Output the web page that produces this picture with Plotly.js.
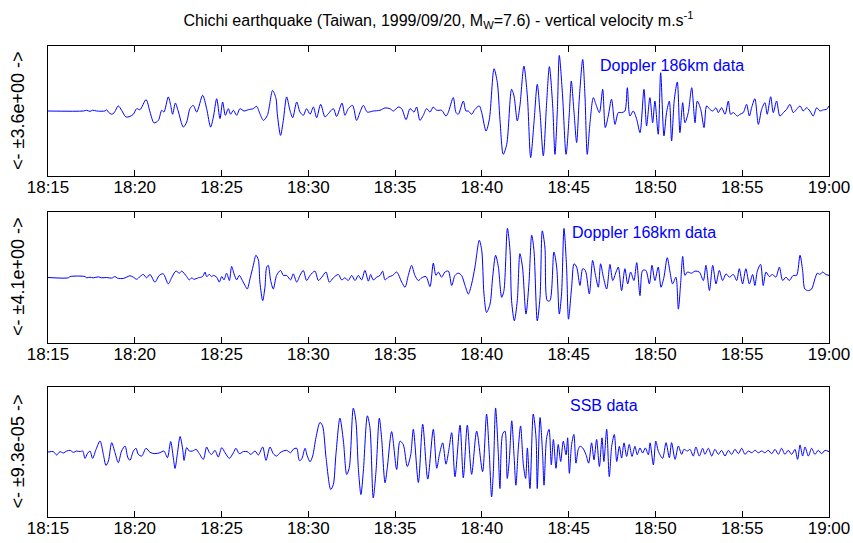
<!DOCTYPE html>
<html>
<head>
<meta charset="utf-8">
<script src="https://cdn.plot.ly/plotly-3.0.1.min.js"></script>
<style>html,body{margin:0;padding:0;background:#fff;}#chart{width:853px;height:543px;}</style>
</head>
<body>
<div id="chart"></div>
<script>
// Time axis: minutes after 18:15 UT
const tickMinutes = [0, 5, 10, 15, 20, 25, 30, 35, 40, 45];
const tickLabels = ['18:15', '18:20', '18:25', '18:30', '18:35', '18:40', '18:45', '18:50', '18:55', '19:00'];

// Panel 1 : Doppler 186 km (m/s)
const dop186Time = [
0, 2.04, 2.23, 2.42, 2.57, 2.80, 3.28, 3.38, 3.48, 3.67,
3.80, 4.05, 4.24, 4.49, 4.72, 4.92, 5.11, 5.30, 5.65, 5.88,
6.11, 6.36, 6.55, 6.68, 6.93, 7.07, 7.18, 7.34, 7.49, 7.80,
7.99, 8.18, 8.37, 8.57, 8.91, 9.14, 9.37, 9.53, 9.72, 9.91,
10.06, 10.22, 10.39, 10.52, 10.68, 10.87, 11.06, 11.29, 11.54, 11.83,
12.02, 12.21, 12.41, 12.64, 12.94, 13.14, 13.21, 13.40, 13.56, 13.75,
13.94, 14.10, 14.33, 14.52, 14.71, 14.90, 15.10, 15.29, 15.48, 15.71,
15.96, 16.15, 16.44, 16.63, 16.94, 17.11, 17.30, 17.55, 17.78, 17.98,
18.17, 18.40, 18.74, 19.13, 19.42, 19.70, 19.90, 20.18, 20.38, 20.63,
20.86, 21.09, 21.24, 21.43, 21.62, 21.82, 22.01, 22.20, 22.39, 22.68,
22.93, 23.06, 23.35, 23.51, 23.64, 23.93, 24.08, 24.22, 24.41, 24.60,
24.85, 24.99, 25.24, 25.43, 25.70, 25.89, 26.04, 26.23, 26.43, 26.71,
26.85, 27.04, 27.19, 27.42, 27.62, 27.81, 28.00, 28.19, 28.35, 28.54,
28.73, 28.89, 29.08, 29.21, 29.35, 29.46, 29.65, 29.85, 30.04, 30.15,
30.31, 30.46, 30.61, 30.81, 30.94, 31.07, 31.23, 31.42, 31.57, 31.77,
31.96, 32.11, 32.28, 32.47, 32.67, 32.86, 33.05, 33.24, 33.38, 33.53,
33.72, 33.92, 34.11, 34.34, 34.49, 34.68, 34.84, 34.97, 35.16, 35.30,
35.49, 35.64, 35.80, 35.93, 36.09, 36.26, 36.41, 36.57, 36.70, 36.89,
37.09, 37.28, 37.41, 37.61, 37.80, 37.95, 38.14, 38.30, 38.49, 38.62,
38.81, 39.01, 39.20, 39.33, 39.49, 39.72, 39.87, 40.06, 40.25, 40.41,
40.54, 40.73, 40.93, 41.12, 41.31, 41.44, 41.64, 41.79, 41.98, 42.17,
42.37, 42.56, 42.75, 42.94, 43.13, 43.33, 43.52, 43.71, 43.90, 44.09,
44.29, 44.48, 44.67, 44.86, 45.00
];
const dop186Vel = [
0, 0, 0.04, -0.02, 0.04, 0, 0, 0.07, -0.06, -0.18,
-0.11, 0.28, 0.04, -0.33, -0.30, -0.18, 0.13, 0.07, 0.63, -0.06,
-0.66, -0.52, 0.04, -0.06, 0.78, 0.31, -0.18, 0.44, 0.04, -0.89,
-0.61, 0.13, 0.31, -0.06, 0.87, 0.13, -0.89, -0.33, 0.68, -0.42,
0.50, -0.24, 0.13, -0.18, 0.04, -0.24, 0.13, 0, 0.07, 0.13,
0.26, -0.15, -0.52, -0.24, 1.14, 0.68, -0.15, -1.35, -0.52, 0.78,
0.04, -0.37, 0.50, -0.06, -0.24, 0.13, -0.18, 0.22, -0.37, 0.37,
-0.33, -0.15, 0.13, -0.30, 0.44, -0.24, 0.13, 0.31, -0.52, -0.06,
0.31, -0.06, 0, 0.04, 0.17, 0.13, 0, 0.22, 0.13, -0.48,
0.13, -0.06, 0.22, -0.52, -0.24, 0.13, -0.06, 0.22, 0.04, 0.04,
-0.28, -0.09, 0.74, -0.09, -0.18, 0.55, 0, 0, -0.18, 0.09,
0.28, -0.09, -1.11, -0.46, 2.34, 1.57, -0.46, -2.40, -1.85, 1.20,
0.83, -0.55, 0.28, 2.49, 0.83, -2.58, -0.65, 1.48, -0.09, -2.49,
0.46, 2.46, 0.28, -2.40, 0.09, 3.08, 0.83, -2.40, -0.09, 1.66,
-0.09, -1.75, 0.65, 2.86, 0.83, -2.40, -0.65, 0.74, 0.37, -0.09,
1.20, -0.92, -0.28, 0.65, -0.74, -0.09, -0.09, 0, 1.29, -0.28,
0, -0.46, -1.20, 1.20, -0.83, 0.74, -0.65, 0.55, -1.29, 2.12,
-1.38, -0.09, 0.55, -1.66, 0.65, 1.61, -1.20, 0.46, -0.65, -0.09,
1.29, -0.65, 0.55, 0.09, -0.92, 0.28, 0.09, 0, 0.18, -0.09,
0.18, -0.18, 0.55, -0.18, -0.09, -0.28, -0.18, -0.09, 0.37, -0.28,
0.18, 0.68, -0.74, 0.09, 0.46, -0.18, 0.79, -0.09, 0.55, -0.28,
-0.09, 0.09, 0.37, -0.09, 0.09, 0.28, 0, 0.18, 0, -0.28,
0.18, 0, 0.06, 0.09, 0.28
];

// Panel 2 : Doppler 168 km (m/s)
const dop168Time = [
0, 1.17, 1.27, 2.13, 2.23, 2.42, 2.61, 2.90, 3.09, 3.38,
3.67, 3.86, 3.99, 4.34, 4.53, 4.72, 4.92, 5.11, 5.30, 5.49,
5.68, 5.88, 6.16, 6.41, 6.64, 6.93, 7.12, 7.37, 7.57, 7.70,
7.99, 8.14, 8.28, 8.41, 8.66, 8.91, 9.05, 9.14, 9.30, 9.43,
9.53, 9.72, 9.87, 10.01, 10.14, 10.29, 10.45, 10.58, 10.72, 10.87,
11.02, 11.20, 11.35, 11.48, 11.64, 11.83, 11.98, 12.12, 12.21, 12.37,
12.50, 12.60, 12.69, 12.83, 12.98, 13.17, 13.40, 13.56, 13.75, 13.98,
14.13, 14.33, 14.52, 14.71, 14.90, 15.10, 15.38, 15.58, 15.77, 16.02,
16.21, 16.44, 16.73, 16.92, 17.11, 17.30, 17.50, 17.69, 17.88, 18.07,
18.26, 18.46, 18.59, 18.74, 18.94, 19.13, 19.28, 19.42, 19.61, 19.86,
20.09, 20.38, 20.57, 20.76, 20.95, 21.14, 21.34, 21.53, 21.78, 22.01,
22.20, 22.35, 22.49, 22.68, 22.87, 23.07, 23.26, 23.45, 23.64, 23.83,
24.03, 24.22, 24.41, 24.60, 24.85, 24.99, 25.12, 25.27, 25.47, 25.62,
25.79, 25.95, 26.14, 26.27, 26.47, 26.62, 26.71, 26.87, 27.04, 27.19,
27.34, 27.54, 27.71, 27.87, 28.00, 28.19, 28.35, 28.48, 28.63, 28.77,
28.92, 29.15, 29.31, 29.46, 29.59, 29.73, 29.88, 29.99, 30.17, 30.31,
30.46, 30.65, 30.81, 30.96, 31.19, 31.38, 31.53, 31.71, 31.84, 32.00,
32.19, 32.38, 32.54, 32.73, 32.86, 33.05, 33.24, 33.40, 33.57, 33.76,
33.92, 34.11, 34.26, 34.45, 34.65, 34.80, 34.97, 35.16, 35.32, 35.49,
35.68, 35.84, 35.99, 36.18, 36.32, 36.45, 36.57, 36.70, 36.84, 37.08,
37.28, 37.53, 37.76, 37.91, 38.11, 38.30, 38.49, 38.68, 38.87, 39.07,
39.26, 39.49, 39.68, 39.83, 40.02, 40.21, 40.41, 40.60, 40.73, 40.87,
41.06, 41.21, 41.37, 41.56, 41.75, 41.94, 42.14, 42.33, 42.52, 42.71,
42.94, 43.13, 43.33, 43.48, 43.61, 43.81, 44.00, 44.19, 44.33, 44.48,
44.63, 44.82, 45.00
];
const dop168Vel = [
0, -0.02, 0.06, 0.06, -0.02, 0.02, -0.02, 0.04, -0.02, 0,
-0.04, 0.06, -0.04, -0.06, 0.02, 0.11, 0.02, -0.11, 0.06, 0.19,
-0.02, 0.19, -0.29, 0.13, 0.23, -0.40, -0.02, 0.40, 0.27, 0.40,
0.06, -0.15, -0.02, -0.11, -0.02, 0.06, 0.34, 0.06, 0.19, 0.06,
0.13, 0.02, -0.29, 0.06, -0.15, 0.27, -0.19, 0.69, 0.23, -0.15,
0.13, -0.19, -0.50, -0.72, -0.08, 0.76, 1.39, 1.11, -0.29, -1.45,
-0.61, 0.65, 0.76, -0.19, -0.72, 0.13, 0.44, 0.13, 0.13, -0.15,
0.23, -0.29, 0.13, 0.44, -0.19, 0.13, 0.40, -0.19, 0.02, 0.34,
-0.29, -0.02, 0.19, -0.15, -0.02, -0.19, 0.13, -0.19, 0.13, -0.15,
0.44, -0.23, 0.19, -0.15, 0.02, 0.13, 0.40, -0.15, 0.02, 0.13,
0.34, -0.29, -0.61, 0.13, 0.76, 0.13, -0.19, -0.02, 0.06, -0.57,
0.90, 0.13, 0.34, 0.02, 0.34, 0.40, -0.50, 0.13, 0.27, 0.13,
-0.50, -1.03, -0.40, 0.65, 2.33, 1.70, -1.03, -2.19, -1.66, 0.02,
1.39, 0.65, -1.24, -0.82, 3.07, 1.70, -1.45, -2.71, -1.45, 1.49,
0.65, -2.29, -0.40, 2.65, 1.70, -2.71, -1.24, 2.92, 1.91, -1.45,
-1.45, 1.60, 0.65, -2.29, -1.03, 3.07, 0.65, -2.61, -0.61, 0.86,
0.65, -0.50, 0.55, 0.44, -1.03, 1.07, 0.23, -0.61, 0.86, 0.02,
-0.72, 0.82, -0.19, 0.34, 0.65, -0.82, 0.55, -0.40, 0.34, -0.19,
0.93, -1.14, 0.44, 0.44, -0.40, 0.76, -0.19, 0.65, -0.61, 0.02,
1.24, 0.34, -0.40, 0.02, -1.98, -0.40, 1.32, 0.13, 0.34, 0.27,
0.40, 0.34, -0.19, 0.76, -0.82, 0.76, -0.40, 0.44, -0.19, 0.23,
0.02, 0.19, -0.19, 0.55, -0.40, 0.55, -0.40, 0.19, -0.50, 0.40,
0.82, -0.50, 0.34, 0.06, 0.19, 0.02, 0.65, -0.19, 0.02, -0.19,
0.13, 0.13, 1.39, 0.44, -0.72, -0.82, -0.72, -0.08, 0.27, 0.19,
0.34, 0.19, 0.13
];

// Panel 3 : SSB (units of 1e-5 m/s)
const ssbTime = [
0, 0.31, 0.50, 0.69, 0.88, 1.08, 1.27, 1.46, 1.65, 1.84,
2.00, 2.13, 2.27, 2.42, 2.57, 2.77, 3.00, 3.19, 3.34, 3.48,
3.67, 3.86, 4.05, 4.24, 4.44, 4.59, 4.72, 4.92, 5.07, 5.20,
5.40, 5.65, 5.88, 6.16, 6.45, 6.68, 6.88, 7.07, 7.22, 7.32,
7.45, 7.61, 7.76, 7.84, 7.99, 8.14, 8.33, 8.53, 8.72, 8.95,
9.14, 9.30, 9.43, 9.62, 9.81, 10.01, 10.20, 10.45, 10.68, 10.83,
11.02, 11.25, 11.48, 11.68, 11.93, 12.12, 12.37, 12.56, 12.79, 12.98,
13.17, 13.37, 13.56, 13.75, 13.98, 14.13, 14.33, 14.48, 14.61, 14.81,
14.94, 15.10, 15.25, 15.44, 15.67, 15.82, 16.02, 16.29, 16.44, 16.59,
16.82, 17.02, 17.21, 17.36, 17.59, 17.74, 17.88, 18.03, 18.17, 18.40,
18.55, 18.74, 18.90, 19.09, 19.22, 19.42, 19.55, 19.80, 20.09, 20.28,
20.47, 20.70, 20.90, 21.05, 21.34, 21.59, 21.88, 22.20, 22.40, 22.55,
22.74, 22.93, 23.10, 23.26, 23.45, 23.74, 23.93, 24.16, 24.41, 24.70,
25.04, 25.27, 25.43, 25.56, 25.66, 25.79, 25.95, 26.04, 26.19, 26.33,
26.46, 26.58, 26.72, 26.85, 26.96, 27.10, 27.23, 27.39, 27.52, 27.62,
27.77, 27.96, 28.12, 28.19, 28.35, 28.50, 28.58, 28.73, 28.87, 29.00,
29.12, 29.27, 29.40, 29.54, 29.69, 29.85, 29.94, 30.04, 30.17, 30.30,
30.42, 30.55, 30.65, 30.81, 31.00, 31.15, 31.32, 31.46, 31.61, 31.77,
31.92, 32.03, 32.19, 32.34, 32.48, 32.63, 32.77, 32.92, 33.05, 33.19,
33.34, 33.49, 33.65, 33.82, 33.95, 34.11, 34.26, 34.42, 34.59, 34.69,
34.88, 35.02, 35.17, 35.41, 35.61, 35.80, 35.93, 36.13, 36.32, 36.51,
36.64, 36.84, 36.99, 37.18, 37.33, 37.53, 37.72, 37.85, 38.05, 38.24,
38.43, 38.62, 38.81, 39.01, 39.20, 39.39, 39.58, 39.78, 39.97, 40.16,
40.35, 40.55, 40.74, 40.93, 41.12, 41.31, 41.50, 41.70, 41.89, 42.08,
42.27, 42.46, 42.65, 42.85, 43.04, 43.19, 43.33, 43.48, 43.62, 43.81,
44.00, 44.19, 44.38, 44.58, 44.77, 45.00
];
const ssbVelE5 = [
0, 0.05, -0.43, 0.05, -0.14, 0.14, 0.24, -0.05, 0.14, 0.05,
0.14, -0.91, -0.24, 0.14, -0.91, 0.38, 1.58, -0.34, -1.92, -1.29,
1.34, -0.10, -1.53, 0.14, 0.86, -0.72, -1.20, 0.14, 0.53, -0.34,
-0.58, 0.53, -0.05, -0.24, -0.10, 0.14, -0.82, 1.49, -0.82, -2.35,
-0.34, 2.21, 0.38, -1.20, 0.62, 0.14, 0.14, 0.38, -0.24, -1.05,
0.72, -0.10, -0.34, 0.24, -0.72, 0.62, -0.10, -0.91, -0.10, 0.53,
-0.24, 0.05, 0.05, -0.34, 0.14, -0.43, 0.72, -1.20, 0.72, -0.24,
-0.58, -0.10, 0.14, 0.24, -0.10, 0.38, 0.53, -1.20, -1.05, 0.53,
-0.58, -1.39, -0.58, 2.06, 4.22, 3.74, -0.82, -5.37, -4.65, -0.34,
4.84, 1.58, -3.21, -2.25, 6.28, 4.46, -2.25, -6.09, -2.73, 5.18,
3.50, -6.57, -2.73, 4.84, 2.06, -4.41, -2.25, 2.92, -2.50, 1.55,
1.07, -2.08, -0.39, 3.25, -4.36, 3.97, -3.88, 3.25, -2.33, -0.39,
1.31, -1.74, 0.34, 2.76, -3.54, 3.83, -3.68, 3.83, -3.20, 3.00,
-2.81, 5.43, -0.39, -6.44, -2.81, 6.30, -0.39, -5.23, 2.52, 3.00,
-3.78, -1.11, 4.46, -0.39, -4.75, 0.58, 3.73, -1.84, -3.78, 0.58,
-5.23, 5.43, 2.03, -5.23, 4.94, -0.39, -4.75, 2.03, 3.25, -1.84,
1.79, -2.33, 1.07, -1.36, 1.55, -0.39, 2.03, -3.05, 1.07, 2.52,
-1.60, 0.34, 0.82, 0.58, -0.39, -1.60, 1.31, -1.11, 1.79, -2.08,
2.03, -1.36, 3.25, -3.54, 0.82, 2.52, -1.36, 0.82, -0.87, 1.31,
-0.63, 1.07, -0.63, 0.82, -0.39, 0.58, -0.15, 0.58, -0.39, 1.31,
-1.84, 1.55, 0.10, -0.91, 1.34, -0.82, 1.34, -1.05, 0.86, -0.34,
0.38, 0.14, 0.38, -0.58, 0.72, -0.58, 0.53, -0.34, 0.53, -0.58,
0.38, -0.34, 0.24, -0.58, 0.24, -0.34, 0.38, -0.24, 0.53, -0.34,
0.14, -0.10, 0.24, -0.10, 0.14, -0.10, 0.24, -0.24, 0.38, -0.34,
0.53, -0.34, 0.24, -0.34, 0.38, -1.05, 1.01, -0.58, 0.72, -0.58,
0.53, -0.34, 0.24, -0.24, 0.24, 0.05
];

const panelLabels = ['Doppler 186km data', 'Doppler 168km data', 'SSB data'];
const rangeLabels = ['<- \u00b13.6e+00 ->', '<- \u00b14.1e+00 ->', '<- \u00b19.3e-05 ->'];
const halfRanges = [3.6, 4.1, 9.3e-5];

const FONT = 'Liberation Sans, Arial, Helvetica, sans-serif';
const BLUE = '#0000ff';

function lineTrace(x, y, xa, ya) {
  return {x: x, y: y, xaxis: xa, yaxis: ya, type: 'scatter', mode: 'lines',
    line: {color: BLUE, width: 1, shape: 'spline', smoothing: 0.8},
    hoverinfo: 'skip', showlegend: false};
}

const data = [
  lineTrace(dop186Time, dop186Vel, 'x', 'y'),
  lineTrace(dop168Time, dop168Vel, 'x2', 'y2'),
  lineTrace(ssbTime, ssbVelE5.map(v => v * 1e-5), 'x3', 'y3')
];

function xax(anchor) {
  return {anchor: anchor, domain: [0, 1], range: [0, 45], tickvals: tickMinutes, ticktext: tickLabels,
    ticks: 'inside', ticklen: 6, tickcolor: '#000', mirror: 'ticks', showline: true, linecolor: '#000', linewidth: 1,
    ticklabelstandoff: -4,
    showgrid: false, zeroline: false, tickfont: {family: FONT, size: 17, color: '#000'}, fixedrange: true};
}
function yax(anchor, dom, hr) {
  return {anchor: anchor, domain: dom, range: [-hr, hr], showticklabels: false, ticks: '',
    showline: true, mirror: true, linecolor: '#000', linewidth: 1, showgrid: false, zeroline: false, fixedrange: true};
}

const layout = {
  width: 853, height: 543,
  margin: {l: 48, r: 24, t: 46, b: 26},
  paper_bgcolor: '#fff', plot_bgcolor: '#fff',
  title: {text: 'Chichi earthquake (Taiwan, 1999/09/20, M<sub>W</sub>=7.6) - vertical velocity m.s<sup>-1</sup>',
    font: {family: FONT, size: 16, color: '#000'}, x: 0.5, xref: 'paper', xanchor: 'center',
    y: 1 - 20 / 543, yref: 'container', yanchor: 'middle'},
  xaxis: xax('y'), yaxis: yax('x', [0.724, 1], halfRanges[0]),
  xaxis2: xax('y2'), yaxis2: yax('x2', [0.3694, 0.6476], halfRanges[1]),
  xaxis3: xax('y3'), yaxis3: yax('x3', [0, 0.276], halfRanges[2]),
  annotations: [
    {text: panelLabels[0], xref: 'paper', yref: 'paper', x: 0.704, y: 0.958, xanchor: 'left', yanchor: 'middle', showarrow: false, font: {family: FONT, size: 16, color: BLUE}},
    {text: panelLabels[1], xref: 'paper', yref: 'paper', x: 0.668, y: 0.604, xanchor: 'left', yanchor: 'middle', showarrow: false, font: {family: FONT, size: 16, color: BLUE}},
    {text: panelLabels[2], xref: 'paper', yref: 'paper', x: 0.666, y: 0.2357, xanchor: 'left', yanchor: 'middle', showarrow: false, font: {family: FONT, size: 16, color: BLUE}},
    {text: rangeLabels[0], xref: 'paper', yref: 'paper', x: -0.0384, y: 0.862, xanchor: 'center', yanchor: 'middle', textangle: -90, showarrow: false, font: {family: FONT, size: 18, color: '#000'}},
    {text: rangeLabels[1], xref: 'paper', yref: 'paper', x: -0.0384, y: 0.5096, xanchor: 'center', yanchor: 'middle', textangle: -90, showarrow: false, font: {family: FONT, size: 18, color: '#000'}},
    {text: rangeLabels[2], xref: 'paper', yref: 'paper', x: -0.0384, y: 0.139, xanchor: 'center', yanchor: 'middle', textangle: -90, showarrow: false, font: {family: FONT, size: 18, color: '#000'}}
  ]
};

Plotly.newPlot('chart', data, layout, {displayModeBar: false, staticPlot: true});
</script>
</body>
</html>
